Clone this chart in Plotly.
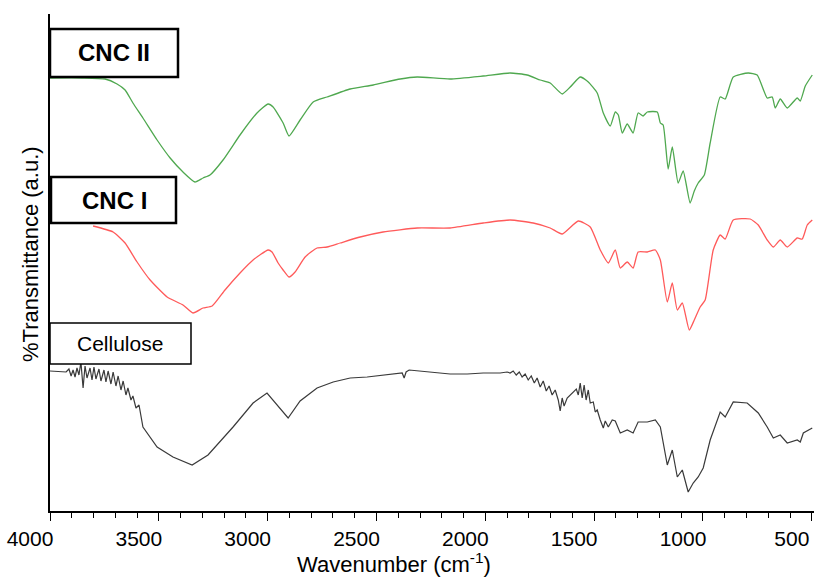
import plotly.graph_objects as go

# ---------------- data (wavenumber in cm-1, transmittance in a.u.) ----------------
cnc2_wn = [4000, 3853, 3747, 3692, 3655, 3619, 3573, 3508, 3448, 3389, 3334, 3297, 3265,
           3205, 3127, 3049, 2998, 2975, 2929, 2902, 2851, 2791, 2727, 2621, 2515, 2391,
           2313, 2162, 2010, 1886, 1808, 1748, 1702, 1647, 1610, 1564, 1527, 1486, 1458,
           1426, 1403, 1389, 1371, 1348, 1321, 1298, 1275, 1256, 1210, 1196, 1183, 1160,
           1141, 1114, 1091, 1059, 1040, 1022, 994, 967, 921, 898, 861, 792, 751, 705,
           682, 668, 645, 613, 567, 553, 530, 498]
cnc2_t = [433, 433, 432, 427, 421, 408, 393, 371, 353, 339, 329, 333, 336,
          351, 376, 398, 407, 404, 388, 375, 391, 409, 414, 422, 426, 432,
          434, 432, 435, 438, 436, 431, 428, 417, 424, 434, 429, 418, 398,
          385, 399, 396, 378, 387, 378, 398, 395, 399, 399, 388, 386, 342,
          364, 328, 340, 308, 320, 328, 336, 368, 414, 412, 434, 438, 436, 413,
          414, 403, 412, 403, 413, 410, 425, 436]

cnc1_wn = [3802, 3710, 3655, 3600, 3540, 3462, 3389, 3343, 3297, 3255, 3196, 3127, 3067,
           2998, 2980, 2952, 2929, 2902, 2874, 2828, 2773, 2727, 2667, 2575, 2470, 2313,
           2162, 2010, 1886, 1780, 1702, 1647, 1573, 1518, 1472, 1435, 1403, 1380, 1348,
           1321, 1298, 1256, 1219, 1196, 1164, 1141, 1118, 1095, 1063, 1040, 1013, 990,
           953, 921, 898, 861, 783, 746, 705, 677, 645, 613, 567, 544, 521, 498]
cnc1_t = [285, 279, 268, 249, 231, 214, 206, 198, 203, 205, 221, 238, 251,
          261, 259, 248, 241, 234, 239, 254, 263, 264, 268, 274, 279, 283,
          283, 288, 291, 288, 283, 277, 290, 284, 261, 248, 261, 243, 249,
          243, 259, 259, 261, 251, 209, 228, 201, 208, 181, 191, 204, 211,
          261, 276, 272, 291, 292, 286, 271, 264, 271, 264, 273, 272, 286, 291]

cell_wn = [4000, 3954, 3926, 3913, 3903, 3894, 3885, 3876, 3867, 3858, 3848, 3839, 3830,
           3816, 3807, 3798, 3789, 3775, 3766, 3752, 3743, 3733, 3720, 3710, 3697, 3687,
           3674, 3664, 3651, 3642, 3628, 3619, 3605, 3591, 3573, 3508, 3435, 3347, 3274,
           3159, 3067, 3003, 2906, 2851, 2773, 2699, 2621, 2543, 2470, 2391, 2382, 2373,
           2364, 2350, 2299, 2162, 2083, 2010, 1932, 1900,
           1886, 1872, 1858, 1844, 1831, 1817, 1803, 1789, 1775, 1762, 1748, 1734, 1720,
           1707, 1693, 1679, 1665, 1656, 1647, 1638, 1624, 1610, 1596, 1582, 1573, 1564,
           1555, 1546, 1537, 1527, 1518, 1504, 1495, 1486, 1472, 1458, 1449, 1435, 1417,
           1403, 1380, 1348, 1321, 1298, 1256, 1219, 1196, 1164, 1141, 1118, 1095, 1068,
           1045, 1022, 999, 967, 921, 898, 861, 797, 746, 705, 677, 645, 613, 567, 553,
           539, 498]
cell_t = [140, 139, 139, 142, 135, 141, 134, 143, 136, 149, 123, 145, 133,
          143, 131, 144, 132, 142, 130, 141, 129, 140, 127, 139, 125, 135,
          121, 130, 116, 123, 111, 115, 103, 106, 84, 64, 54, 46, 56,
          84, 108, 118, 93, 110, 123, 129, 133, 134, 136, 138, 138, 133,
          139, 141, 140, 137, 137, 138, 138, 139,
          138, 140, 136, 139, 134, 137, 131, 135, 128, 133, 124, 130, 120,
          125, 116, 121, 111, 100, 113, 105, 113, 116, 119, 122, 116, 128,
          113, 126, 111, 121, 108, 109, 99, 101, 91, 83, 90, 84, 91,
          90, 78, 81, 78, 89, 89, 91, 84, 46, 61, 34, 41, 19,
          28, 34, 43, 71, 99, 94, 109, 108, 98, 84, 73, 76, 68, 71, 69,
          78, 83]

labels = ["CNC II", "CNC I", "Cellulose"]
tick_vals = [4000, 3500, 3000, 2500, 2000, 1500, 1000, 500]
tick_text = ["4000", "3500", "3000", "2500", "2000", "1500", "1000", "500"]

# ---------------- layout helpers (pixel -> paper) ----------------
W, H = 814, 579
L, R, T, B = 50, 0, 14, 68
PW, PH = W - L - R, H - T - B


def px(x):
    return (x - L) / PW


def py(y):
    return (H - B - y) / PH


FONT = "Liberation Sans, Arial, sans-serif"

fig = go.Figure()
fig.add_trace(go.Scatter(x=cell_wn, y=cell_t, mode="lines", name=labels[2],
                         line=dict(color="#3a3a3a", width=1.2)))
fig.add_trace(go.Scatter(x=cnc1_wn, y=cnc1_t, mode="lines", name=labels[1],
                         line=dict(color="#ff5a5a", width=1.3, shape="spline",
                                   smoothing=0.5)))
fig.add_trace(go.Scatter(x=cnc2_wn, y=cnc2_t, mode="lines", name=labels[0],
                         line=dict(color="#4fa84f", width=1.3, shape="spline",
                                   smoothing=0.5)))

boxes = [
    (50, 178, 29, 77, 2.5),
    (51, 176, 177, 223, 2.5),
    (50, 191, 323, 364, 1.5),
]
for (x0, x1, y0, y1, lw) in boxes:
    fig.add_shape(type="rect", xref="paper", yref="paper",
                  x0=px(x0), x1=px(x1), y0=py(y1), y1=py(y0),
                  line=dict(color="black", width=lw), fillcolor="white", layer="above")

label_pos = [(114, 53, 24, 700), (114, 200, 24, 700), (120, 343, 21, 400)]
for lab, (cx, cy, fs, fw) in zip(labels, label_pos):
    fig.add_annotation(xref="paper", yref="paper", x=px(cx), y=py(cy), text=lab,
                       showarrow=False, xanchor="center", yanchor="middle",
                       font=dict(family=FONT, size=fs, color="black", weight=fw))

fig.add_annotation(xref="paper", yref="paper", x=px(394), y=py(563),
                   text="Wavenumber (cm<sup>-1</sup>)", showarrow=False,
                   xanchor="center", yanchor="middle",
                   font=dict(family=FONT, size=22, color="black"))
fig.add_annotation(xref="paper", yref="paper", x=px(30), y=py(254),
                   text="%Transmittance (a.u.)", showarrow=False, textangle=-90,
                   xanchor="center", yanchor="middle",
                   font=dict(family=FONT, size=22, color="black"))

fig.update_layout(
    width=W, height=H,
    margin=dict(l=L, r=R, t=T, b=B, pad=0),
    paper_bgcolor="white", plot_bgcolor="white",
    showlegend=False,
    xaxis=dict(range=[4000, 490], tickvals=tick_vals, ticktext=tick_text,
               showgrid=False, zeroline=False, showline=True, linecolor="black",
               linewidth=2, ticks="outside", ticklen=8, tickwidth=1.3,
               tickcolor="black", ticklabelshift=20,
               tickfont=dict(family=FONT, size=21, color="black"),
               minor=dict(dtick=100, tick0=0, ticks="outside", ticklen=5,
                          tickwidth=1.2, tickcolor="black", showgrid=False)),
    yaxis=dict(range=[0, 497], showticklabels=False, ticks="", showgrid=False,
               zeroline=False, showline=True, linecolor="black", linewidth=2),
)

fig.write_html("out.html")
